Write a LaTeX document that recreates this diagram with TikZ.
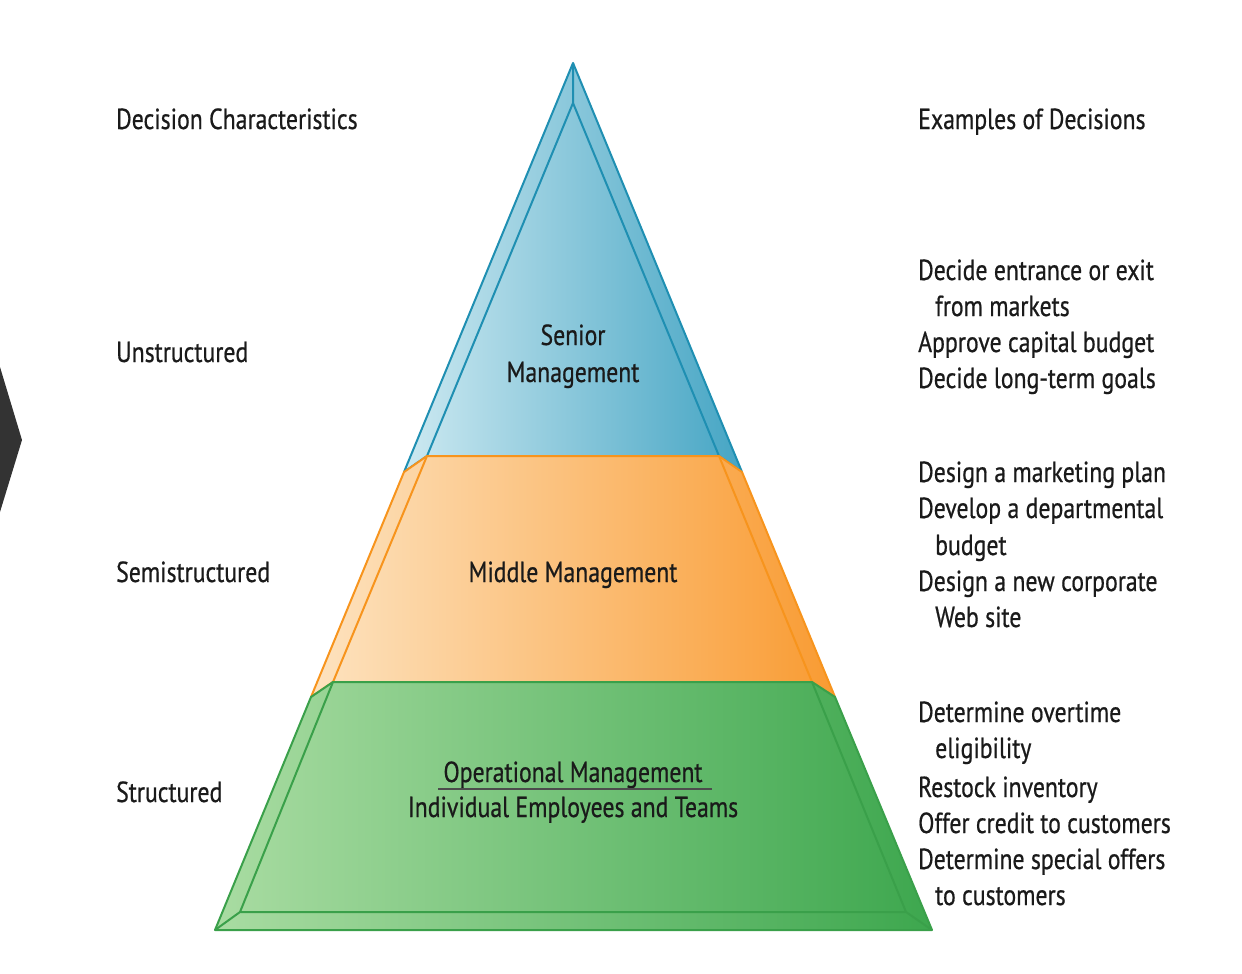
\documentclass[tikz,border=0pt]{standalone}
\usepackage{fontspec}
\setmainfont{PT Sans}[FakeStretch=0.82,FakeBold=0.6]
\usetikzlibrary{calc}
\definecolor{bluel}{HTML}{CDE9F1}
\definecolor{bluer}{HTML}{45A5C4}
\definecolor{bluel2}{HTML}{1F8FB2}
\definecolor{orl}{HTML}{FDE3C0}
\definecolor{orr}{HTML}{F99B32}
\definecolor{orline}{HTML}{F7941D}
\definecolor{grl}{HTML}{A9DCA2}
\definecolor{grr}{HTML}{3DA74E}
\definecolor{grline}{HTML}{3AA04A}
\definecolor{txt}{HTML}{1A1A1A}
\tikzset{
  lbl/.style={anchor=base west, inner sep=0pt, text=txt, font=\fontsize{29}{31}\selectfont},
  ctr/.style={anchor=base, inner sep=0pt, text=txt, font=\fontsize{29}{31}\selectfont},
  bline/.style={draw=bluel2, line width=2pt, line join=round},
  oline/.style={draw=orline, line width=2pt, line join=round},
  gline/.style={draw=grline, line width=2pt, line join=round},
}
\begin{document}
\begin{tikzpicture}[x=1pt,y=-1pt]
\useasboundingbox (0,0) rectangle (1242,974);
% chevron
\fill[black!80] (-5,367) -- (0,367) -- (22,440) -- (0,512) -- (-5,512) -- cycle;
% coordinates
\coordinate (A) at (573,63);
\coordinate (Ai) at (573,103);
\coordinate (BLo) at (404,472);
\coordinate (BLi) at (427,456);
\coordinate (BRi) at (719,456);
\coordinate (BRo) at (742,472);
\coordinate (OLo) at (311,697);
\coordinate (OLi) at (333,682);
\coordinate (ORi) at (812,682);
\coordinate (ORo) at (835,697);
\coordinate (GLo) at (215,930);
\coordinate (GLi) at (240,912);
\coordinate (GRi) at (906,912);
\coordinate (GRo) at (932,930);
% blue layer
\path[bline, left color=bluel, right color=bluer] (A) -- (BLo) -- (BLi) -- (BRi) -- (BRo) -- cycle;
\draw[bline] (A) -- (Ai) (BLi) -- (Ai) -- (BRi);
% orange layer
\path[oline, left color=orl, right color=orr] (BLo) -- (BLi) -- (BRi) -- (BRo) -- (ORo) -- (ORi) -- (OLi) -- (OLo) -- cycle;
\draw[oline] (BLi) -- (OLi) (BRi) -- (ORi);
% green layer
\path[gline, left color=grl, right color=grr] (OLo) -- (OLi) -- (ORi) -- (ORo) -- (GRo) -- (GLo) -- cycle;
\draw[gline] (OLi) -- (GLi) -- (GRi) -- (ORi) (GLi) -- (GLo) (GRi) -- (GRo);
% left labels
\node[lbl] (dc) at (116,129) {Decision Characteristics};
\node[lbl] (un) at (116,362) {Unstructured};
\node[lbl] (se) at (116,582) {Semistructured};
\node[lbl] (st) at (116,802) {Structured};
% center labels
\node[ctr] (sm1) at (573,345) {Senior};
\node[ctr] (sm2) at (573,382) {Management};
\node[ctr] (mm) at (573,582) {Middle Management};
\node[ctr] (om) at (573,782) {Operational Management};
\draw[black!70, line width=2pt] (438,789) -- (712,789);
\node[ctr] (ie) at (573,817) {Individual Employees and Teams};
% right labels
\node[lbl] (ex) at (918,129) {Examples of Decisions};
\node[lbl] (r1) at (918,280) {Decide entrance or exit};
\node[lbl] (r2) at (935,316) {from markets};
\node[lbl] (r3) at (918,352) {Approve capital budget};
\node[lbl] (r4) at (918,388) {Decide long-term goals};
\node[lbl] (r5) at (918,482) {Design a marketing plan};
\node[lbl] (r6) at (918,518) {Develop a departmental};
\node[lbl] (r7) at (935,555) {budget};
\node[lbl] (r8) at (918,591) {Design a new corporate};
\node[lbl] (r9) at (935,627) {Web site};
\node[lbl] (r10) at (918,722) {Determine overtime};
\node[lbl] (r11) at (935,758) {eligibility};
\node[lbl] (r12) at (918,797) {Restock inventory};
\node[lbl] (r13) at (918,833) {Offer credit to customers};
\node[lbl] (r14) at (918,869) {Determine special offers};
\node[lbl] (r15) at (935,905) {to customers};
\end{tikzpicture}
\end{document}
